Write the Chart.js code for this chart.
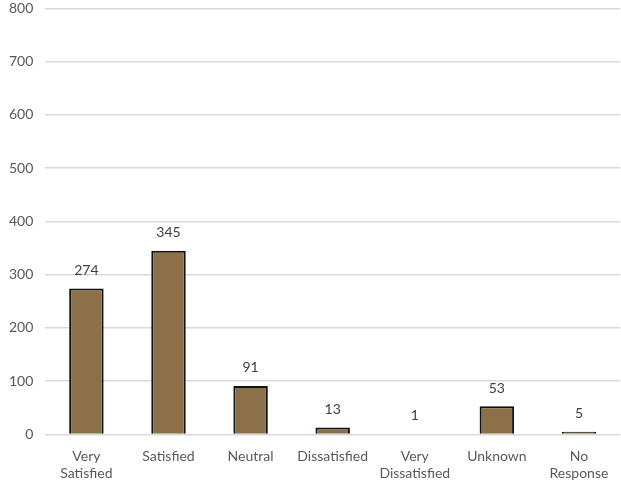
<!DOCTYPE html>
<html>
<head>
<meta charset="utf-8">
<script src="https://cdn.jsdelivr.net/npm/chart.js@4/dist/chart.umd.min.js"></script>
<style>
  html, body { margin: 0; padding: 0; background: #fff; overflow: hidden; }
  #wrap { width: 621px; height: 495px; margin-top: -12px; }
</style>
</head>
<body>
<div id="wrap"><canvas id="surveyChart"></canvas></div>
<script>
// ===== data =====
const categories = [
  ['Very', 'Satisfied'], 'Satisfied', 'Neutral', 'Dissatisfied',
  ['Very', 'Dissatisfied'], 'Unknown', ['No', 'Response']
];
const responses = [274, 345, 91, 13, 1, 53, 5];
const yTicks = [0, 100, 200, 300, 400, 500, 600, 700, 800];

const FONT = 'Lato, "Open Sans", sans-serif';
const TEXT = '#595959';

// value labels above each bar
const valueLabels = {
  id: 'valueLabels',
  afterDatasetsDraw(chart) {
    const { ctx } = chart;
    const meta = chart.getDatasetMeta(0);
    ctx.save();
    ctx.font = '14px ' + FONT;
    ctx.fillStyle = '#404040';
    ctx.textAlign = 'center';
    ctx.textBaseline = 'bottom';
    meta.data.forEach((bar, i) => {
      ctx.fillText(responses[i], bar.x, bar.y - 11);
    });
    ctx.restore();
  }
};

new Chart(document.getElementById('surveyChart'), {
  type: 'bar',
  data: {
    labels: categories,
    datasets: [{
      data: responses,
      backgroundColor: '#8B7049',
      borderColor: '#111',
      borderWidth: 2,
      categoryPercentage: 1,
      barPercentage: 0.42
    }]
  },
  options: {
    responsive: true,
    maintainAspectRatio: false,
    animation: false,
    layout: { padding: { top: 0, right: 1, left: -3, bottom: -5 } },
    plugins: { legend: { display: false }, tooltip: { enabled: false } },
    scales: {
      x: {
        grid: { display: false },
        border: { display: false },
        ticks: { color: TEXT, font: { family: FONT, size: 14, lineHeight: 1.2 }, padding: 6, maxRotation: 0, autoSkip: false }
      },
      y: {
        min: 0,
        max: 800,
        afterBuildTicks: axis => { axis.ticks = yTicks.map(v => ({ value: v })); },
        grid: { color: '#d9d9d9', lineWidth: 1.5, drawTicks: false },
        border: { display: false },
        ticks: { color: TEXT, font: { family: FONT, size: 14 }, padding: 12 }
      }
    }
  },
  plugins: [valueLabels]
});
</script>
</body>
</html>
